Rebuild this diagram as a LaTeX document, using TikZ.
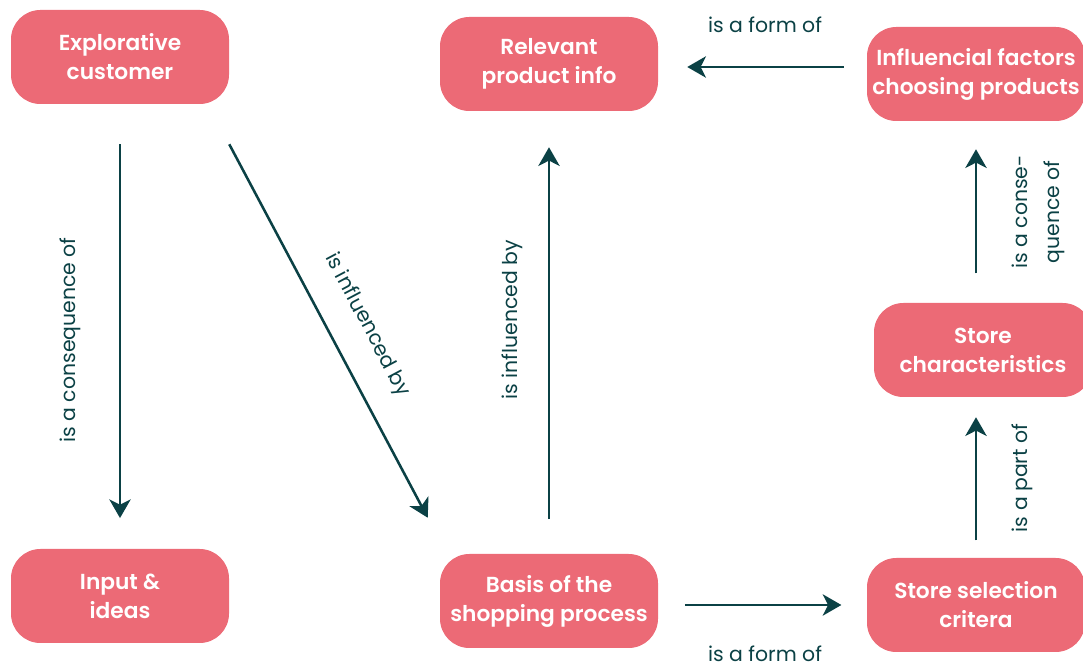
\documentclass[tikz,border=0pt]{standalone}
\usepackage{fontspec}
\setmainfont{Poppins}[BoldFont={Poppins SemiBold}]
\usepackage{tikz}
\usepackage{xcolor}
\usetikzlibrary{arrows.meta,positioning}

\definecolor{boxpink}{HTML}{EC6A76}
\definecolor{darkteal}{HTML}{0B4145}

\begin{document}
\begin{tikzpicture}
  [x=0.75pt,y=-0.75pt,
   box/.style={rectangle,rounded corners=22pt,fill=boxpink,text=white,
     minimum width=163.5pt,minimum height=70.5pt,align=center,
     font=\fontsize{16.3}{21.75}\selectfont\bfseries},
   lab/.style={text=darkteal,align=center,font=\fontsize{15.3}{24}\selectfont},
   arr/.style={draw=darkteal,line width=1.9pt,
     -{Stealth[length=14pt,width=16pt,inset=4pt]}}]
  \useasboundingbox (0,0) rectangle (1083,666);

  \node[box] (n1) at (120,57)  {Explorative\\customer};
  \node[box] (n2) at (120,596) {Input \&\\ideas};
  \node[box] (n3) at (549,64)  {Relevant\\product info};
  \node[box] (n4) at (549,601) {Basis of the\\shopping process};
  \node[box] (n5) at (976,74)  {Influencial factors\\choosing products};
  \node[box] (n6) at (983,350) {Store\\characteristics};
  \node[box] (n7) at (976,605) {Store selection\\critera};

  % connectors
  \draw[arr,shorten <=30pt,shorten >=23pt] (n1) -- (n2);
  \draw[arr] ([shift={(0,40)}]n1.south east) -- ([shift={(-12,-36)}]n4.north west);
  \draw[arr,shorten <=26pt,shorten >=27pt] (n4) -- (n3);
  \draw[arr] ([shift={(-23,-7)}]n5.west) -- ([shift={(29,3)}]n3.east);
  \draw[arr,shorten <=22pt,shorten >=21pt] (n6.north -| n5) -- (n5);
  \draw[arr,shorten <=13pt,shorten >=15pt] (n7) -- (n7 |- n6.south);
  \draw[arr,shorten <=20pt,shorten >=19pt] (n4.east |- n7) -- (n7);

  % labels
  \node[lab,rotate=90]  (l1) at (70,340)  {is a consequence of};
  \node[lab,rotate=-62] (l2) at (367,325) {is influenced by};
  \node[lab,rotate=90]  (l3) at (512,320) {is influenced by};
  \node[lab]            (l4) at (765,25)  {is a form of};
  \node[lab,rotate=90]  (l5) at (1038,212) {is a conse-\\quence of};
  \node[lab,rotate=90]  (l6) at (1022,478) {is a part of};
  \node[lab]            (l7) at (765,654) {is a form of};
\end{tikzpicture}
\end{document}
